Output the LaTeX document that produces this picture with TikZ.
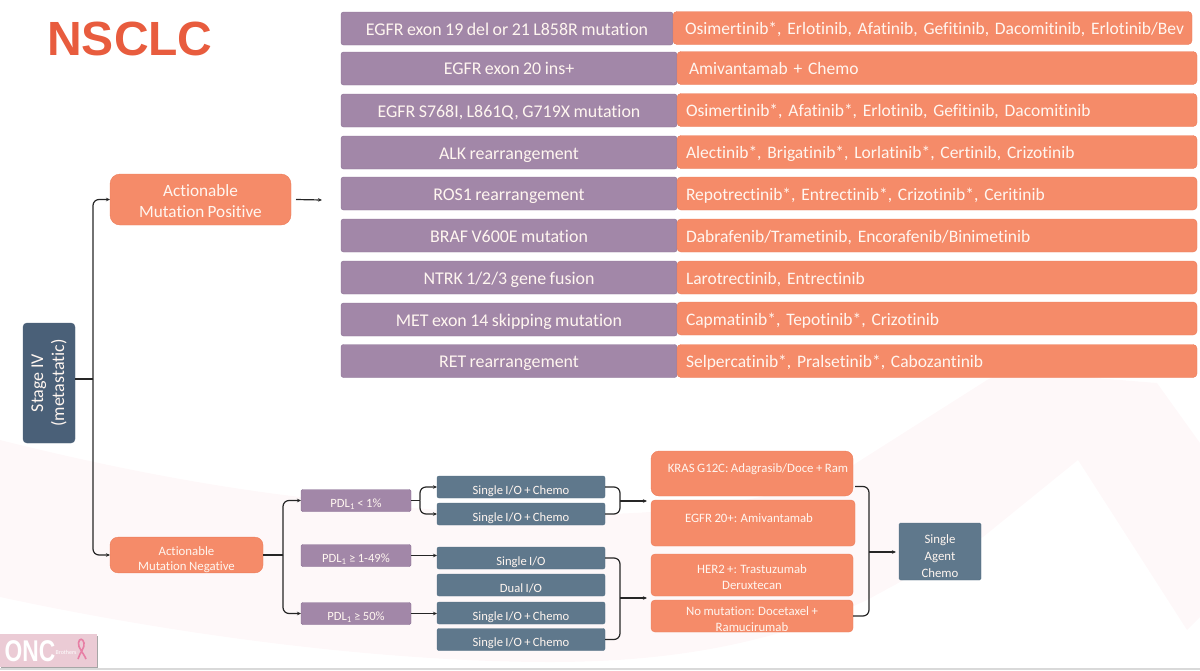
\documentclass[tikz,border=0pt]{standalone}
\usepackage{xcolor}
\usepackage{fontspec}
\setmainfont{Carlito}[Ligatures=CommonOff, WordSpace=0.85]
\newfontfamily\titlefont{Liberation Sans}
\usepackage{tikz}
\usetikzlibrary{arrows.meta}

\definecolor{boxorange}{HTML}{F58B69}
\definecolor{lineorange}{HTML}{EC7C5A}
\definecolor{boxpurple}{HTML}{A287A8}
\definecolor{linepurple}{HTML}{8C7296}
\definecolor{boxslate}{HTML}{5F788C}
\definecolor{lineslate}{HTML}{527084}
\definecolor{boxdark}{HTML}{4A6078}
\definecolor{titlered}{HTML}{E85C3E}
\definecolor{softpink}{HTML}{FEF8F9}
\definecolor{softtext}{HTML}{FFF6F0}
\definecolor{logopink}{HTML}{EBCBD5}
\definecolor{ribbonpink}{HTML}{E77FA5}

\tikzset{
  every node/.style={inner sep=0pt, outer sep=0pt, text=softtext, align=center},
  purplerow/.style={draw=linepurple, fill=boxpurple, rounded corners=2.5pt, minimum width=336, minimum height=33, text height=13.5pt, text depth=0pt, font=\fontsize{17.9}{20}\selectfont},
  orangerow/.style={draw=lineorange, fill=boxorange, rounded corners=4pt, minimum height=33, text width=502, align=left, inner xsep=9pt, text height=13.5pt, text depth=0pt, font=\fontsize{17.5}{20}\selectfont},
  orangebig/.style={draw=lineorange, fill=boxorange, rounded corners=10pt, font=\fontsize{17.2}{21}\selectfont},
  pdlbox/.style={draw=linepurple, fill=boxpurple, rounded corners=1.5pt, minimum width=110, minimum height=22, text height=14pt, text depth=0pt, font=\fontsize{12.6}{14}\selectfont},
  iobox/.style={draw=lineslate, fill=boxslate, rounded corners=2pt, minimum width=168, minimum height=22, text height=14pt, text depth=0pt, font=\fontsize{12.6}{14}\selectfont},
  drugbox/.style={draw=lineorange, fill=boxorange, rounded corners=4pt, minimum width=202, font=\fontsize{12.8}{16}\selectfont},
  link/.style={draw=black!85, line width=1.2pt, rounded corners=6pt},
}

\begin{document}
\begin{tikzpicture}[x=1pt, y=-1pt, >={Stealth[length=4pt, width=3.5pt]}]
    \useasboundingbox (0,0) rectangle (1200,670);

    % Background
    \fill[softpink] (0,440) .. controls (100,465) and (200,485) .. (300,497) .. controls (500,520) and (720,530) .. (850,467) -- (987,380) .. controls (1005,370) and (1020,372) .. (1033,373) -- (1157,383) -- (1200,443) -- (1200,617) -- (1187,630) -- (1078,460) -- (983,537) -- (867,600) .. controls (760,650) and (650,662) .. (550,662) .. controls (400,662) and (200,640) .. (0,597) -- cycle;
    \fill[black!15] (0,667.5) rectangle (1200,670);

    % Title
    \node[text=titlered, font=\titlefont\bfseries\fontsize{48}{48}\selectfont] (title) at (130,39) {NSCLC};

    % Mutation names
    \node[purplerow, minimum width=332] (m1) at (507,28.5) {EGFR exon 19 del or 21 L858R mutation};
    \node[purplerow, text height=12pt] (m2) at (509,68.5) {EGFR exon 20 ins+};
    \node[purplerow] (m3) at (509,110.5) {EGFR S768I, L861Q, G719X mutation};
    \node[purplerow] (m4) at (509,152.5) {ALK rearrangement};
    \node[purplerow] (m5) at (509,193.5) {ROS1 rearrangement};
    \node[purplerow] (m6) at (509,235.5) {BRAF V600E mutation};
    \node[purplerow] (m7) at (509,277.5) {NTRK 1/2/3 gene fusion};
    \node[purplerow] (m8) at (509,319.5) {MET exon 14 skipping mutation};
    \node[purplerow] (m9) at (509,361) {RET rearrangement};

    % Mutation drugs
    \node[orangerow, inner xsep=12pt, text width=495] (d1) at (932.5,28) {\mbox{Osimertinib*, Erlotinib, Afatinib, Gefitinib, Dacomitinib, Erlotinib/Bev}};
    \node[orangerow, inner xsep=12pt, text width=496, text height=12pt] (d2) at (937,68) {Amivantamab + Chemo};
    \node[orangerow] (d3) at (937,110) {Osimertinib*, Afatinib*, Erlotinib, Gefitinib, Dacomitinib};
    \node[orangerow] (d4) at (937,152) {Alectinib*, Brigatinib*, Lorlatinib*, Certinib, Crizotinib};
    \node[orangerow] (d5) at (937,193.5) {Repotrectinib*, Entrectinib*, Crizotinib*, Ceritinib};
    \node[orangerow] (d6) at (937,235.5) {Dabrafenib/Trametinib, Encorafenib/Binimetinib};
    \node[orangerow] (d7) at (937,277.5) {Larotrectinib, Entrectinib};
    \node[orangerow] (d8) at (937,318.5) {Capmatinib*, Tepotinib*, Crizotinib};
    \node[orangerow] (d9) at (937,361) {Selpercatinib*, Pralsetinib*, Cabozantinib};

    % Stage
    \node[draw=boxdark, fill=boxdark, rounded corners=4pt, minimum width=120, minimum height=52, rotate=90, font=\fontsize{18}{21}\selectfont] (stage) at (49,383) {Stage IV\\(metastatic)};

    % Actionable
    \node[orangebig, minimum width=181, minimum height=51] (pos) at (200.5,199.5) {\rule{0pt}{16pt}Actionable\\Mutation Positive};
    \node[orangebig, rounded corners=8pt, minimum width=153, minimum height=34, font=\fontsize{12.8}{15.5}\selectfont] (neg) at (186.5,555) {\rule{0pt}{18pt}Actionable\\Mutation Negative};
    \coordinate (posout) at (322,200);
    \coordinate (trunk) at (93,379);

    % PDL1
    \node[pdlbox] (pdl1) at (356,500.5) {PDL\textsubscript{1} < 1\%};
    \node[pdlbox] (pdl2) at (356,555.5) {PDL\textsubscript{1} ≥ 1-49\%};
    \node[pdlbox] (pdl3) at (356,613.5) {PDL\textsubscript{1} ≥ 50\%};
    \coordinate (negfork) at (283,555);
    \coordinate (lowfork) at (420,500.5);

    % IO
    \node[iobox] (io1) at (521,487) {Single I/O + Chemo};
    \node[iobox] (io2) at (521,514) {Single I/O + Chemo};
    \node[iobox] (io3) at (521,558) {Single I/O};
    \node[iobox] (io4) at (521,585) {Dual I/O};
    \node[iobox] (io5) at (521,613) {Single I/O + Chemo};
    \node[iobox] (io6) at (521,639.5) {Single I/O + Chemo};
    \coordinate (iotop) at (620,501);
    \coordinate (iolow) at (620,598);

    % Second line
    \node[drugbox, rounded corners=8pt, minimum height=45, text depth=10pt] (kras) at (752,473.5) {\hspace{12pt}KRAS G12C: Adagrasib/Doce + Ram};
    \node[drugbox, minimum width=204, minimum height=46, text depth=9pt] (egfr) at (753,523) {\hspace{-8pt}EGFR 20+: Amivantamab};
    \node[drugbox, minimum height=42] (her) at (752,575) {\rule{0pt}{13pt}HER2 +: Trastuzumab\\Deruxtecan};
    \node[drugbox, minimum height=32] (nomut) at (752,616) {\rule{0pt}{15pt}No mutation: Docetaxel +\\Ramucirumab};
    \coordinate (krasout) at (855,486.5);
    \coordinate (drugfork) at (869,552);

    % Last line
    \node[draw=lineslate, fill=boxslate, rounded corners=1.5pt, minimum width=82, minimum height=57, font=\fontsize{12.8}{17}\selectfont] (agent) at (940,551.5) {\rule{0pt}{18pt}Single\\Agent\\Chemo};

    % Logo
    \fill[black!35] (1,636) rectangle (98,668);
    \node[fill=logopink, minimum width=97, minimum height=33] (logo) at (48.5,650.5) {};
    \node[text=white, xscale=0.76, font=\titlefont\bfseries\fontsize{30}{30}\selectfont] (onc) at (30,651) {ONC};
    \node[text=white, font=\fontsize{6}{6}\selectfont] (brothers) at (66,652) {Brothers};
    \draw[ribbonpink, line width=1.6pt] (78,659) .. controls (80,652) and (85,648) .. (84,643) .. controls (83,638) and (79,638) .. (78.5,643) .. controls (78,648) and (83,652) .. (86,659);

    % Connections
    \draw[link] (stage.south |- trunk) -- (trunk);
    \draw[link, ->] (trunk) |- (pos.west);
    \draw[link, ->] (trunk) |- (neg.west);
    \draw[link, ->] ([xshift=5]pos.east) -- (posout);
    \draw[link] (neg.east) -- (negfork);
    \draw[link, ->] (negfork) |- (pdl1.west);
    \draw[link, ->] (negfork) |- (pdl3.west);
    \draw[link] (pdl1.east) -- (lowfork);
    \draw[link, ->] (lowfork) |- (io1.west);
    \draw[link, ->] (lowfork) |- (io2.west);
    \draw[link, ->] (pdl2.east) -- (pdl2.east -| io3.west);
    \draw[link, ->] (pdl3.east) -- (pdl3.east -| io5.west);
    \draw[link] (io1.east) -| (iotop) |- (io2.east);
    \draw[link, ->, shorten >=4pt] (iotop) -- (iotop -| kras.west);
    \draw[link] (io3.east) -| (iolow) |- (io6.east);
    \draw[link, ->, shorten >=4pt] (iolow) -- (iolow -| her.west);
    \draw[link] (krasout) -| (drugfork) |- (nomut.east);
    \draw[link, ->, shorten >=3pt] (drugfork) -- (drugfork -| agent.west);
\end{tikzpicture}
\end{document}
